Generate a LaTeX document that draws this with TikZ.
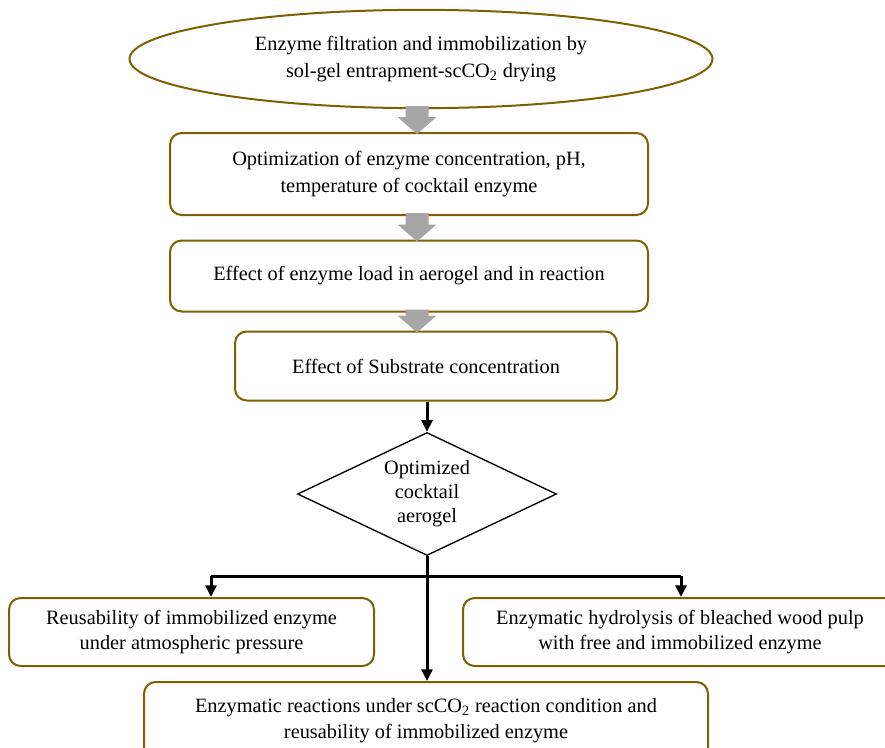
\documentclass[tikz,border=0pt]{standalone}
\usepackage{fontspec}
\setmainfont{Liberation Serif}
\usetikzlibrary{arrows.meta,calc,shapes.geometric}
\definecolor{goldline}{HTML}{7F6000}
\definecolor{greyarrow}{HTML}{A6A6A6}

\begin{document}
\begin{tikzpicture}[
  x=0.6pt, y=-0.6pt,
  txt/.style={align=center, inner sep=0pt, font=\fontsize{12.2}{16.2}\selectfont},
  bx/.style={txt, draw=goldline, line width=1.2pt, rounded corners=7pt, fill=white},
  flow/.style={black, line width=1.8pt, -{Triangle[length=7pt,width=6.5pt]}}
]
\clip (0,0) rectangle (885,747);
\fill[white] (0,0) rectangle (885,747);
% top
\node[txt, ellipse, draw=goldline, line width=1.2pt, minimum width=349.8pt, minimum height=59pt] (ell) at (421,59)
  {Enzyme filtration and immobilization by\\sol-gel entrapment-scCO\textsubscript{2} drying};
\node[bx, minimum width=286.8pt, minimum height=49.2pt] (b1) at (409,174)
  {Optimization of enzyme concentration, pH,\\temperature of cocktail enzyme};
\node[bx, minimum width=286.8pt, minimum height=42.6pt] (b2) at (409,276)
  {Effect of enzyme load in aerogel and in reaction};
\node[bx, minimum width=229.2pt, minimum height=41.4pt] (b3) at (426,366)
  {Effect of Substrate concentration};
% grey arrows
\coordinate (ax) at (417,0);
\foreach \a/\b in {ell/b1, b1/b2, b2/b3}
  \fill[greyarrow] ($(\a.south -| ax)+(-11.5,-3)$) -- ($(\b.north -| ax)+(-11.5,-15)$) -- ($(\b.north -| ax)+(-19.5,-15)$)
    -- ($(\b.north -| ax)+(0,2)$) -- ($(\b.north -| ax)+(19.5,-15)$) -- ($(\b.north -| ax)+(11.5,-15)$)
    -- ($(\a.south -| ax)+(11.5,-3)$) -- cycle;
% decision
\node[txt, diamond, draw=black, line width=0.8pt, aspect=2.1, minimum width=155.4pt, minimum height=73.8pt,
  font=\fontsize{12.2}{14.4}\selectfont] (dm) at (427,494) {Optimized\\cocktail\\aerogel};
\draw[flow] (b3.south -| dm.north) -- (dm.north);
% outcomes
\node[bx, minimum width=219pt, minimum height=40.8pt, font=\fontsize{12.2}{15}\selectfont] (bL) at (191.5,632)
  {Reusability of immobilized enzyme\\under atmospheric pressure};
\node[bx, minimum width=260.4pt, minimum height=40.8pt, font=\fontsize{12.2}{15}\selectfont] (bR) at (680,632)
  {Enzymatic hydrolysis of bleached wood pulp\\with free and immobilized enzyme};
\node[bx, minimum width=338.4pt, minimum height=46.8pt, font=\fontsize{12.2}{15.6}\selectfont] (bB) at (426,721)
  {Enzymatic reactions under scCO\textsubscript{2} reaction condition and\\reusability of immobilized enzyme};
\coordinate (jL) at (211,576);
\coordinate (jR) at (681,576);
\draw[black, line width=1.8pt] (jL) -- (jR);
\draw[flow] (jL) -- (jL |- bL.north);
\draw[flow] (jR) -- (jR |- bR.north);
\draw[flow] (dm.south) -- (dm.south |- bB.north);
\end{tikzpicture}
\end{document}
